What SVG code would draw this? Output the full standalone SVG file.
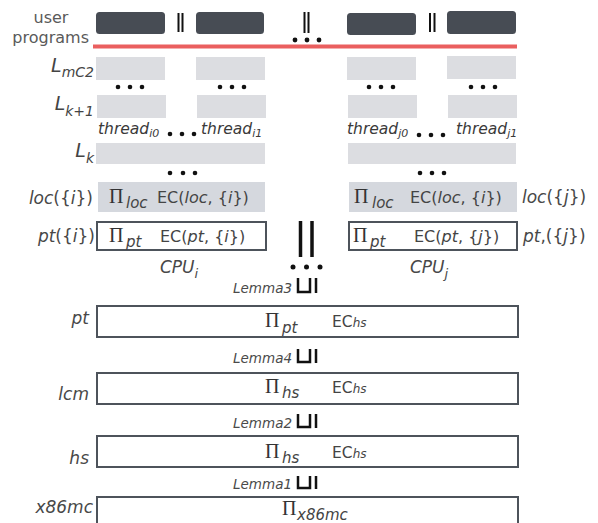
<svg xmlns="http://www.w3.org/2000/svg" width="598" height="523" viewBox="0 0 598 523">
<style>
text{font-family:"DejaVu Sans","Open Sans",sans-serif;font-weight:400;fill:#444}
.it{font-style:italic}
.n{font-style:normal}
.lbl{font-size:17px;font-style:italic;fill:#484848}
.up{fill:#474c54}
.g{fill:#dcdde1}
.loc{fill:#d5d8de}
.box{fill:#fff;stroke:#4d535b;stroke-width:2}
.pi{font-family:"Liberation Serif","Times New Roman",serif;font-size:20px;fill:#333}
.sub{font-size:15px;font-style:italic}
.ec{font-size:16px}
.thr{font-size:15.5px;font-style:italic;fill:#3a3a3a}
.bar{stroke:#111;stroke-width:2}
.tbar{stroke:#111;stroke-width:3.5}
.dot{fill:#111}
.lem{font-size:13.5px;font-style:italic;fill:#4a4a4a}
.sym{fill:none;stroke:#111;stroke-width:2.5}
</style>

<g id="labels">
<text x="51" y="23" text-anchor="middle" font-size="16" style="fill:#5a5a5a">user</text>
<text x="89" y="43" text-anchor="end" font-size="16" style="fill:#5a5a5a">programs</text>
<text x="94" y="72" text-anchor="end" class="it" font-size="19">L<tspan font-size="14" dy="5">mC2</tspan></text>
<text x="94" y="110" text-anchor="end" class="it" font-size="19">L<tspan font-size="14" dy="6">k+1</tspan></text>
<text x="94" y="157" text-anchor="end" class="it" font-size="19">L<tspan font-size="14" dy="6">k</tspan></text>
<text x="93" y="204" text-anchor="end" class="lbl">loc<tspan class="n">({</tspan>i<tspan class="n">})</tspan></text>
<text x="95" y="242" text-anchor="end" class="lbl">pt<tspan class="n">({</tspan>i<tspan class="n">})</tspan></text>
<text x="522" y="203" class="lbl">loc<tspan class="n">({</tspan>j<tspan class="n">})</tspan></text>
<text x="523" y="242" class="lbl">pt<tspan class="n">,({</tspan>j<tspan class="n">})</tspan></text>
<text x="160" y="273" class="lbl" font-size="17">CPU<tspan font-size="13" dy="5">i</tspan></text>
<text x="410" y="273" class="lbl" font-size="17">CPU<tspan font-size="13" dy="5">j</tspan></text>
<text x="89" y="324" text-anchor="end" class="lbl" font-size="18">pt</text>
<text x="89" y="400" text-anchor="end" class="lbl" font-size="18">lcm</text>
<text x="89" y="464" text-anchor="end" class="lbl" font-size="18">hs</text>
<text x="93" y="513" text-anchor="end" class="lbl" font-size="18">x86mc</text>
</g>

<g id="user-programs">
<rect class="up" x="96" y="12" width="69" height="22" rx="3.5"/>
<rect class="up" x="196" y="12" width="68" height="22" rx="3.5"/>
<rect class="up" x="347" y="13" width="69" height="22" rx="3.5"/>
<rect class="up" x="447" y="11" width="69" height="23" rx="3.5"/>
<line class="bar" x1="178.5" y1="13" x2="178.5" y2="32"/>
<line class="bar" x1="182.5" y1="13" x2="182.5" y2="32"/>
<line class="bar" x1="304.5" y1="12" x2="304.5" y2="33"/>
<line class="bar" x1="308.5" y1="12" x2="308.5" y2="33"/>
<line class="bar" x1="430" y1="13" x2="430" y2="32"/>
<line class="bar" x1="434.5" y1="13" x2="434.5" y2="32"/>
<circle class="dot" cx="295" cy="40" r="2.4"/>
<circle class="dot" cx="307" cy="40" r="2.4"/>
<circle class="dot" cx="319" cy="40" r="2.4"/>
<line x1="93" y1="46.5" x2="517" y2="46.5" stroke="#ea5f5f" stroke-width="4.2"/>
</g>

<g id="thread-layers">
<rect class="g" x="96" y="57" width="69" height="23"/>
<rect class="g" x="196" y="57" width="69" height="23"/>
<rect class="g" x="347" y="57" width="69" height="23"/>
<rect class="g" x="447" y="56" width="69" height="23"/>
<rect class="g" x="97" y="95" width="69" height="23"/>
<rect class="g" x="197" y="95" width="69" height="23"/>
<rect class="g" x="348" y="95" width="69" height="23"/>
<rect class="g" x="448" y="95" width="69" height="23"/>
<g class="dot">
<circle cx="118" cy="87" r="2.3"/><circle cx="130" cy="87" r="2.3"/><circle cx="142" cy="87" r="2.3"/>
<circle cx="220" cy="87" r="2.3"/><circle cx="232" cy="87" r="2.3"/><circle cx="244" cy="87" r="2.3"/>
<circle cx="369" cy="87" r="2.3"/><circle cx="381" cy="87" r="2.3"/><circle cx="393" cy="87" r="2.3"/>
<circle cx="471" cy="87" r="2.3"/><circle cx="483" cy="87" r="2.3"/><circle cx="495" cy="87" r="2.3"/>
<circle cx="170" cy="134" r="2.3"/><circle cx="182" cy="134" r="2.3"/><circle cx="194" cy="134" r="2.3"/>
<circle cx="419" cy="135" r="2.3"/><circle cx="431" cy="135" r="2.3"/><circle cx="443" cy="135" r="2.3"/>
<circle cx="170" cy="173" r="2.3"/><circle cx="183" cy="173" r="2.3"/><circle cx="195" cy="173" r="2.3"/>
<circle cx="420" cy="173" r="2.3"/><circle cx="432" cy="173" r="2.3"/><circle cx="444" cy="173" r="2.3"/>
</g>
<text class="thr" x="98" y="134">thread<tspan font-size="11" dy="3">i0</tspan></text>
<text class="thr" x="201" y="134">thread<tspan font-size="11" dy="3">i1</tspan></text>
<text class="thr" x="347" y="134">thread<tspan font-size="11" dy="3">j0</tspan></text>
<text class="thr" x="456" y="134">thread<tspan font-size="11" dy="3">j1</tspan></text>
<rect class="g" x="96" y="143" width="169" height="21"/>
<rect class="g" x="348" y="143" width="168" height="21"/>
</g>

<g id="cpu-i">
<rect class="loc" x="98" y="182" width="167" height="30"/>
<text class="pi" x="109" y="203">Π</text>
<text class="sub" x="126" y="208">loc</text>
<text class="ec" x="157" y="203">EC(<tspan class="it">loc</tspan>, {<tspan class="it">i</tspan>})</text>
<rect class="box" x="97" y="222" width="169" height="28"/>
<text class="pi" x="109" y="242">Π</text>
<text class="sub" x="126" y="247">pt</text>
<text class="ec" x="160" y="242">EC(<tspan class="it">pt</tspan>, {<tspan class="it">i</tspan>})</text>
</g>

<g id="cpu-j">
<rect class="loc" x="349" y="182" width="168" height="30"/>
<text class="pi" x="354" y="203">Π</text>
<text class="sub" x="372" y="208">loc</text>
<text class="ec" x="410" y="203">EC(<tspan class="it">loc</tspan>, {<tspan class="it">i</tspan>})</text>
<rect class="box" x="349" y="222" width="168" height="28"/>
<text class="pi" x="353" y="242">Π</text>
<text class="sub" x="370" y="247">pt</text>
<text class="ec" x="414" y="242">EC(<tspan class="it">pt</tspan>, {<tspan class="it">j</tspan>})</text>
</g>

<g id="parallel">
<line class="tbar" x1="300.5" y1="221" x2="300.5" y2="257"/>
<line class="tbar" x1="312" y1="221" x2="312" y2="257"/>
<circle class="dot" cx="293" cy="267" r="2.5"/>
<circle class="dot" cx="306.5" cy="267" r="2.5"/>
<circle class="dot" cx="320" cy="267" r="2.5"/>
</g>

<g id="connectors">
<text class="lem" x="292" y="293" text-anchor="end">Lemma3</text>
<path class="sym" d="M298 278V292H310V278M316 278V293"/>
<text class="lem" x="292" y="363" text-anchor="end">Lemma4</text>
<path class="sym" d="M298 349V362H310V349M316 349V363"/>
<text class="lem" x="292" y="428" text-anchor="end">Lemma2</text>
<path class="sym" d="M298 414V427H310V414M316 414V428"/>
<text class="lem" x="292" y="489" text-anchor="end">Lemma1</text>
<path class="sym" d="M298 476V488H310V476M316 476V489"/>
</g>

<g id="layer-pt">
<rect class="box" x="97" y="306" width="421" height="31"/>
<text class="pi" x="265" y="327">Π</text>
<text class="sub" x="282" y="333">pt</text>
<text x="332" y="327" font-size="15.5">EC<tspan class="it" font-size="12">hs</tspan></text>
</g>

<g id="layer-lcm">
<rect class="box" x="97" y="373" width="421" height="31"/>
<text class="pi" x="265" y="393">Π</text>
<text class="sub" x="282" y="398">hs</text>
<text x="332" y="393" font-size="15.5">EC<tspan class="it" font-size="12">hs</tspan></text>
</g>

<g id="layer-hs">
<rect class="box" x="97" y="436" width="421" height="31"/>
<text class="pi" x="265" y="458">Π</text>
<text class="sub" x="282" y="463">hs</text>
<text x="332" y="458" font-size="15.5">EC<tspan class="it" font-size="12">hs</tspan></text>
</g>

<g id="layer-x86mc">
<rect class="box" x="97" y="497" width="421" height="30"/>
<text class="pi" x="282" y="515">Π</text>
<text class="sub" x="297" y="520" font-size="14">x86mc</text>
</g>
</svg>
